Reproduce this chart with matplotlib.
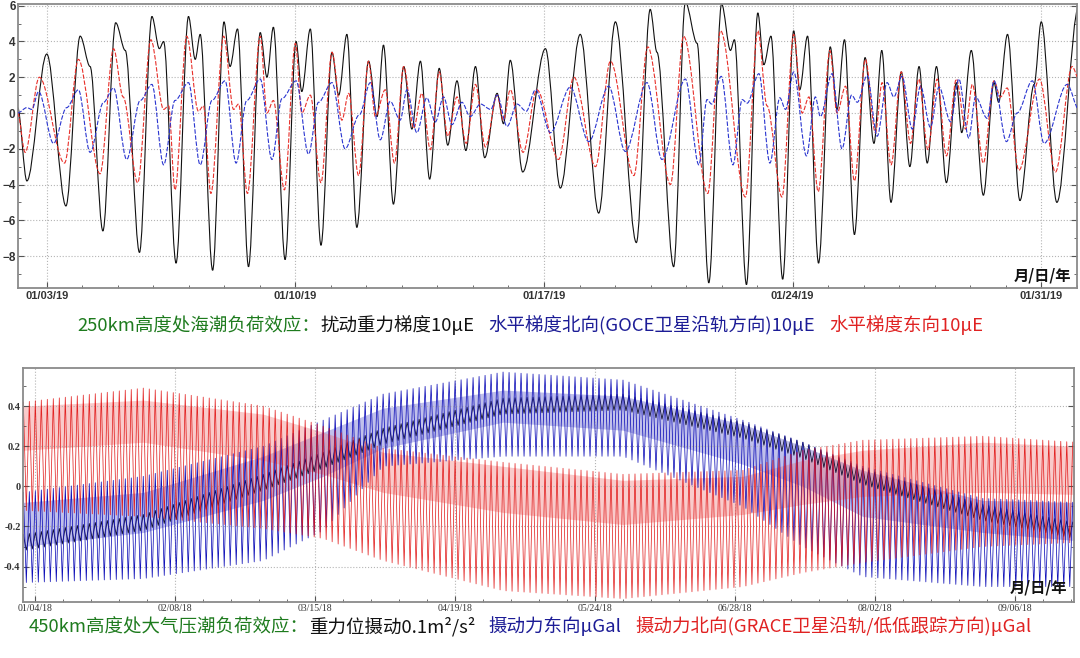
import numpy as np
import matplotlib
matplotlib.use('Agg')
import matplotlib.pyplot as plt
import matplotlib.dates as mdates
from matplotlib.path import Path
from matplotlib.patches import PathPatch
from matplotlib.offsetbox import TextArea, HPacker, AnchoredOffsetbox
from datetime import datetime

plt.rcParams['font.family'] = ['Noto Sans CJK SC', 'DejaVu Sans']

# ---- top panel: sea tide loading at 250 km (extrema, day of Jan 2019)
black_day = [2.18, 2.44, 3.0, 3.54, 3.94, 4.22, 4.58, 4.94, 5.21, 5.61, 5.96, 6.17, 6.29, 6.64,
             6.99, 7.18, 7.32, 7.67, 7.99, 8.16, 8.37, 8.68, 9.01, 9.2, 9.38, 9.71, 10.02, 10.18,
             10.42, 10.72, 11.03, 11.22, 11.45, 11.73, 12.06, 12.30, 12.48, 12.76, 13.05, 13.28,
             13.52, 13.78, 14.05, 14.29, 14.55, 14.80, 15.07, 15.33, 15.68, 15.86, 16.05, 16.40,
             17.04, 17.46, 18.02, 18.54, 19.01, 19.60, 19.99, 20.18, 20.65, 20.98, 21.31, 21.64,
             22.0, 22.25, 22.36, 22.70, 23.02, 23.19, 23.39, 23.72, 24.03, 24.2, 24.42, 24.73,
             25.06, 25.25, 25.46, 25.74, 26.04, 26.29, 26.51, 26.77, 27.06, 27.30, 27.56, 27.79,
             28.05, 28.33, 28.61, 28.76, 29.03, 29.37, 29.67, 29.8, 30.05, 30.4, 30.8, 31.0,
             31.44, 32.05]
black_val = [0.3, -3.8, 3.3, -5.2, 4.3, 2.6, -6.6, 5.05, 3.5, -7.8, 5.4, 3.6, 4.0, -8.4,
             5.4, 3.0, 4.4, -8.8, 5.1, 2.6, 4.7, -8.6, 4.5, 2.0, 4.8, -8.2, 4.0, 1.2,
             4.7, -7.4, 3.4, 1.0, 4.4, -6.4, 2.9, -0.2, 3.8, -5.1, 2.6, -0.9,
             2.9, -3.7, 2.5, -1.8, 1.8, -2.1, 2.6, -2.5, 1.1, -0.6, 2.95, -3.3,
             3.6, -4.2, 4.4, -5.6, 5.1, -7.25, 5.8, 3.4, -8.6, 6.2, 3.9, -9.5,
             6.1, 3.5, 4.1, -9.6, 5.6, 2.7, 4.3, -9.3, 4.6, 1.3, 4.3, -8.4,
             3.7, 0.2, 4.1, -6.8, 3.1, -1.7, 3.5, -5.0, 2.3, -3.0, 2.6, -2.8,
             2.6, -3.9, 1.7, -1.1, 3.5, -4.6, 1.7, 0.6, 4.4, -4.9, 1.6, 5.1,
             -5.0, 5.9]

north_day = [2.18, 2.44, 2.58, 2.77, 3.19, 3.56, 3.89, 4.22, 4.6, 4.88, 5.25, 5.63, 5.96, 6.29,
             6.61, 6.99, 7.32, 7.65, 8.02, 8.33, 8.63, 9.01, 9.34, 9.62, 10.02, 10.37, 10.65,
             11.03, 11.4, 11.8, 12.11, 12.39, 12.67, 12.95, 13.14, 13.42, 13.70, 13.94, 14.17,
             14.41, 14.69, 14.92, 15.21, 15.5, 15.68, 15.96, 16.24, 16.5, 16.76, 17.18, 17.74,
             18.26, 18.82, 19.29, 19.90, 20.32, 20.98, 21.36, 21.59, 21.72, 21.99, 22.32, 22.58,
             22.72, 23.05, 23.36, 23.64, 23.80, 24.03, 24.39, 24.64, 24.78, 25.11, 25.39, 25.66,
             25.82, 26.10, 26.38, 26.66, 26.85, 27.08, 27.37, 27.60, 27.88, 28.12, 28.45, 28.68,
             28.96, 29.15, 29.48, 29.67, 30.02, 30.32, 30.75, 31.08, 31.73, 32.06]
north_val = [0.0, 0.3, 0.2, 1.2, -1.7, 0.3, 1.3, -2.2, 0.6, 1.4, -2.6, 0.7, 1.6, -2.9,
             0.7, 1.7, -2.9, 0.7, 1.8, -2.8, 0.7, 1.9, -2.6, 0.8, 1.8, -2.3, 0.6,
             1.7, -2.0, -0.1, 1.7, -1.5, 0.65, -0.4, 1.3, -1.1, 0.85, -0.5, 0.9,
             -0.65, 0.6, -0.2, 0.5, 0.2, 1.0, -0.75, 0.5, 0.1, 1.3, -1.1, 1.45,
             -1.6, 1.5, -2.15, 1.7, -2.6, 1.9, -2.9, 0.75, 0.5, 2.05, -2.9, 0.75,
             0.55, 2.2, -2.8, 0.85, 0.2, 2.3, -2.4, 0.9, -0.2, 2.2, -2.0, 1.0,
             0.6, 2.1, -1.3, 1.7, 0.9, 2.05, -0.9, 1.5, -0.8, 1.45, -0.5, 1.9,
             -1.4, 0.9, -0.3, 1.8, -1.6, 0.0, 1.8, -1.7, 1.6, 0.2]

east_day = [2.18, 2.39, 2.79, 3.50, 3.89, 4.50, 4.88, 5.15, 5.56, 5.93, 6.29, 6.43, 6.61, 6.94,
            7.27, 7.41, 7.62, 7.98, 8.26, 8.40, 8.65, 9.01, 9.20, 9.38, 9.69, 10.0, 10.18,
            10.42, 10.72, 11.03, 11.31, 11.5, 11.78, 12.06, 12.25, 12.53, 12.79, 13.05, 13.33,
            13.56, 13.80, 14.05, 14.29, 14.55, 14.81, 15.07, 15.35, 15.68, 15.86, 16.05, 16.41,
            16.8, 17.41, 17.84, 18.45, 18.87, 19.53, 19.92, 20.56, 20.93, 21.61, 21.97, 22.67,
            23.02, 23.28, 23.70, 24.03, 24.27, 24.46, 24.72, 25.05, 25.25, 25.49, 25.74, 26.05,
            26.33, 26.52, 26.77, 27.06, 27.32, 27.55, 27.81, 28.07, 28.33, 28.61, 28.87, 29.06,
            29.37, 29.67, 29.85, 30.04, 30.37, 30.95, 31.4, 31.87, 32.06]
east_val = [0.0, -2.2, 2.0, -2.8, 3.0, -3.4, 3.6, 0.9, -3.9, 4.1, 0.2, 0.4, -4.3, 4.3,
            0.1, 0.4, -4.5, 4.3, 0.2, 0.5, -4.5, 4.3, 0.0, 0.7, -4.3, 3.9, 0.0,
            1.0, -3.9, 3.4, -0.4, 1.1, -3.5, 2.9, -0.2, 1.3, -2.8, 2.6, -0.85,
            1.1, -2.05, 2.3, -1.3, 0.9, -1.7, 1.6, -1.9, 1.0, -0.4, 1.3, -2.2,
            1.3, -2.6, 2.0, -3.0, 2.9, -3.5, 3.7, -4.0, 4.3, -4.5, 4.6, -4.7,
            4.6, 0.4, -4.7, 4.4, 0.0, 0.9, -4.4, 3.5, 0.0, 1.5, -3.8, 3.0,
            -1.1, 1.7, -2.9, 2.3, -1.7, 1.9, -2.05, 1.9, -2.4, 1.9, -0.9, 1.6,
            -2.8, 1.8, 0.9, 1.4, -3.2, 1.9, -3.3, 2.6, 1.9]

# ---- bottom panel: atmospheric pressure tide at 450 km (envelopes, day of year 2018)
env_day = [0, 30, 60, 75, 90, 120, 150, 180, 195, 210, 240, 263]
red_upper = [0.42, 0.49, 0.40, 0.30, 0.19, 0.12, 0.06, 0.08, 0.18, 0.23, 0.25, 0.22]
red_core_hi = [0.40, 0.43, 0.36, 0.27, 0.17, 0.10, 0.03, 0.05, 0.13, 0.18, 0.22, 0.20]
red_core_lo = [0.18, 0.22, 0.13, 0.06, -0.03, -0.13, -0.19, -0.14, -0.09, -0.05, -0.03, -0.04]
red_lower = [-0.12, -0.15, -0.21, -0.26, -0.37, -0.52, -0.56, -0.50, -0.43, -0.38, -0.30, -0.28]
blue_upper = [-0.03, 0.05, 0.20, 0.33, 0.46, 0.57, 0.53, 0.33, 0.22, 0.10, -0.06, -0.08]
blue_core_hi = [-0.08, -0.03, 0.15, 0.27, 0.39, 0.48, 0.45, 0.31, 0.20, 0.08, -0.07, -0.08]
blue_core_lo = [-0.30, -0.23, -0.07, 0.05, 0.19, 0.32, 0.28, 0.11, 0.0, -0.15, -0.23, -0.27]
blue_lower = [-0.48, -0.46, -0.37, -0.22, 0.10, 0.15, 0.15, -0.10, -0.30, -0.45, -0.50, -0.50]
black_mid = [-0.28, -0.18, 0.02, 0.13, 0.25, 0.40, 0.42, 0.28, 0.18, 0.05, -0.13, -0.22]

bottom_ticks = ['2018-01-04', '2018-02-08', '2018-03-15', '2018-04-19',
                '2018-05-24', '2018-06-28', '2018-08-02', '2018-09-06']

cap1 = [('250km高度处海潮负荷效应：', '#1e7b1e'), ('扰动重力梯度10μE', '#111111'),
        ('水平梯度北向(GOCE卫星沿轨方向)10μE', '#1c1c96'), ('水平梯度东向10μE', '#e02222')]
cap2 = [('450km高度处大气压潮负荷效应：', '#1e7b1e'), ('重力位摄动0.1m²/s²', '#111111'),
        ('摄动力东向μGal', '#1c1c96'), ('摄动力北向(GRACE卫星沿轨/低低跟踪方向)μGal', '#e02222')]

base19 = mdates.date2num(datetime(2019, 1, 1)) - 1
base18 = mdates.date2num(datetime(2018, 1, 1))


def smooth_line(ax, day, val, **kw):
    # curve through the extrema with flat tangents (cubic bezier segments)
    x = base19 + np.asarray(day)
    verts = [(x[0], val[0])]
    codes = [Path.MOVETO]
    for i in range(len(x) - 1):
        d = (x[i + 1] - x[i]) / 3
        verts += [(x[i] + d, val[i]), (x[i + 1] - d, val[i + 1]), (x[i + 1], val[i + 1])]
        codes += [Path.CURVE4] * 3
    ax.add_patch(PathPatch(Path(verts, codes), fill=False, **kw))


def zigzag(ax, hi, lo, color, lw=0.5, alpha=1.0, step=0.75):
    t = np.arange(0, 263, step)
    top = np.interp(t, env_day, hi)
    bot = np.interp(t, env_day, lo)
    y = np.where(np.arange(len(t)) % 2 == 0, top, bot)
    ax.plot(base18 + t, y, color=color, lw=lw, alpha=alpha)


def style(ax, fs_y, fs_x, family, weight_x):
    for s in ax.spines.values():
        s.set_color('#8a8a8a')
        s.set_linewidth(1.3)
    ax.tick_params(which='both', direction='in', colors='#555555', right=True)
    ax.tick_params(which='major', length=4, pad=2)
    ax.tick_params(which='minor', length=2.5)
    ax.grid(True, which='major', ls=':', color='#b5b5b5', lw=0.8)
    for lab in ax.get_yticklabels():
        lab.set_fontsize(fs_y)
        lab.set_fontweight('bold')
        lab.set_family(family)
        lab.set_color('#333333')
    for lab in ax.get_xticklabels():
        lab.set_fontsize(fs_x)
        lab.set_fontweight(weight_x)
        lab.set_family(family)
        lab.set_color('#333333')


def caption(fig, parts, x, y, size):
    fam = ['Noto Sans CJK SC', 'DejaVu Sans']
    boxes = [TextArea(s, textprops=dict(color=c, fontsize=size, family=fam, fontweight='medium'))
             for s, c in parts]
    head = HPacker(children=boxes[:2], align='baseline', pad=0, sep=0)
    pack = HPacker(children=[head] + boxes[2:], align='baseline', pad=0, sep=10)
    fig.add_artist(AnchoredOffsetbox(loc='center', child=pack, frameon=False, pad=0,
                                     bbox_to_anchor=(x, y), bbox_transform=fig.transFigure))


fig = plt.figure(figsize=(10.8, 6.58), dpi=100)

# top panel
ax1 = fig.add_axes([0.017, 0.562, 0.980, 0.432])
ax1.xaxis_date()
smooth_line(ax1, black_day, black_val, edgecolor='#111111', lw=0.8, zorder=2)
smooth_line(ax1, east_day, east_val, edgecolor='#e8302a', lw=0.8, ls=(0, (4, 1.5)), zorder=3)
smooth_line(ax1, north_day, north_val, edgecolor='#2a35d0', lw=0.8, ls=(0, (4, 1.5)), zorder=4)
ax1.set_xlim(base19 + 2.2, base19 + 32.0)
ax1.set_ylim(-9.8, 6.1)
ax1.set_yticks(np.arange(-8, 7, 2))
ax1.yaxis.set_minor_locator(plt.MultipleLocator(1))
ax1.xaxis.set_major_locator(mdates.DayLocator(bymonthday=[3, 10, 17, 24, 31]))
ax1.xaxis.set_minor_locator(mdates.DayLocator())
ax1.xaxis.set_major_formatter(mdates.DateFormatter('%m/%d/%y'))
style(ax1, 8.5, 8, ['Liberation Sans', 'DejaVu Sans'], 'bold')
ax1.text(0.995, 0.015, '月/日/年', transform=ax1.transAxes, ha='right', va='bottom',
         fontsize=11, fontweight='bold', color='#111111')

# bottom panel
ax2 = fig.add_axes([0.0216, 0.0856, 0.9728, 0.3551])
ax2.xaxis_date()
zigzag(ax2, np.array(black_mid) + 0.04, np.array(black_mid) - 0.04, '#101030', lw=0.6)
zigzag(ax2, blue_upper, blue_lower, '#1010b8', lw=0.55)
ax2.fill_between(base18 + np.array(env_day), blue_core_lo, blue_core_hi,
                 color='#3030c0', alpha=0.3, lw=0)
zigzag(ax2, red_upper, red_lower, '#e01010', lw=0.55, alpha=0.9)
ax2.fill_between(base18 + np.array(env_day), red_core_lo, red_core_hi,
                 color='#f06a6a', alpha=0.35, lw=0)
ax2.set_xlim(base18, base18 + 262.8)
ax2.set_ylim(-0.575, 0.59)
ax2.set_yticks([-0.4, -0.2, 0, 0.2, 0.4])
ax2.set_yticklabels(['-0.4', '-0.2', '0', '0.2', '0.4'])
ax2.yaxis.set_minor_locator(plt.MultipleLocator(0.1))
ax2.set_xticks([mdates.date2num(datetime.strptime(d, '%Y-%m-%d')) for d in bottom_ticks])
ax2.xaxis.set_minor_locator(mdates.WeekdayLocator(byweekday=mdates.TH))
ax2.xaxis.set_major_formatter(mdates.DateFormatter('%m/%d/%y'))
style(ax2, 7.5, 7, ['Liberation Serif', 'DejaVu Serif'], 'normal')
ax2.text(0.994, 0.025, '月/日/年', transform=ax2.transAxes, ha='right', va='bottom',
         fontsize=11, fontweight='bold', color='#111111')

caption(fig, cap1, 0.491, 0.506, 13.3)
caption(fig, cap2, 0.491, 0.048, 13.3)

fig.savefig('out.png', dpi=100)
